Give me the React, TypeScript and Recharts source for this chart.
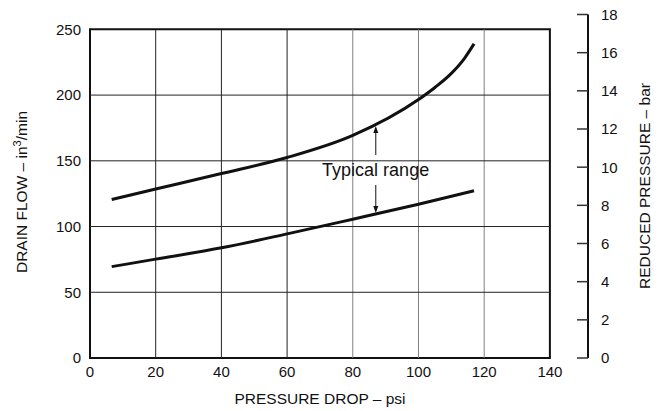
import React from 'react';
import { LineChart, Line, XAxis, YAxis, ReferenceLine, ReferenceArea } from 'recharts';

// axis ticks
const psiTicks = [0, 20, 40, 60, 80, 100, 120, 140];
const flowTicks = [0, 50, 100, 150, 200, 250];
const barTicks = [0, 2, 4, 6, 8, 10, 12, 14, 16, 18];

// inner grid lines
const psiGrid = [20, 40, 60, 80, 100, 120];
const flowGrid = [50, 100, 150, 200];

// upper edge of the typical range
const upperPsi = [6.6, 20, 40, 60, 80, 100, 105, 110, 114, 116.9];
const upperFlow = [120.6, 128.5, 140.3, 152.5, 169.3, 196.6, 205.8, 216.5, 228, 239];

// lower edge of the typical range
const lowerPsi = [6.6, 20, 40, 60, 80, 100, 116.9];
const lowerFlow = [69.5, 75.2, 83.8, 94.4, 105.6, 117, 127.2];

// annotation
const rangeLabel = 'Typical range';
const rangePsi = 87;
const upperArrow = [154.4, 176.5];
const lowerArrow = [131.6, 110.3];
const labelBoxPsi = [65.9, 108];
const labelBoxFlow = [131.6, 154.4];

const PSI_MAX = 140;
const FLOW_MAX = 250;
const BAR_MAX = 18;
// plot area reaches out to the bar axis on the right and up to 18 bar
const psiDomainMax = 151.6;
const flowDomainMax = 261.3;

const upperData = upperPsi.map((psi, i) => ({ psi, flow: upperFlow[i] }));
const lowerData = lowerPsi.map((psi, i) => ({ psi, flow: lowerFlow[i] }));

const FONT = '"Liberation Sans", Arial, sans-serif';
const INK = '#111';

function BarTick(props: any) {
  const { x, y, payload } = props;
  return (
    <g>
      <line x1={x - 11} x2={x} y1={y} y2={y} stroke="#333" strokeWidth={1.5} />
      <text x={x + 13} y={y} dy="0.36em" fontSize={15} fill={INK} fontFamily={FONT}>
        {payload.value}
      </text>
    </g>
  );
}

function Arrow(props: any) {
  const { x1, y1, x2, y2 } = props;
  const dir = y2 < y1 ? -1 : 1;
  return (
    <g>
      <line x1={x1} y1={y1} x2={x2} y2={y2 - dir * 5} stroke={INK} strokeWidth={1} />
      <path d={`M${x2},${y2} L${x2 - 2.5},${y2 - dir * 7} L${x2 + 2.5},${y2 - dir * 7} Z`} fill={INK} />
    </g>
  );
}

export default function App() {
  return (
    <div style={{ position: 'absolute', left: 0, top: 0, width: 667, height: 411, background: '#fff', fontFamily: FONT }}>
      <LineChart width={667} height={411} margin={{ top: 14.5, right: 34, bottom: 23, left: 40 }}>
        <XAxis
          type="number"
          dataKey="psi"
          domain={[0, psiDomainMax]}
          allowDataOverflow
          ticks={psiTicks}
          interval={0}
          axisLine={false}
          tickLine={false}
          tickSize={0}
          tickMargin={8}
          height={30}
          tick={{ fill: INK, fontSize: 15, fontFamily: FONT }}
        />
        <YAxis
          yAxisId="flow"
          type="number"
          domain={[0, flowDomainMax]}
          allowDataOverflow
          ticks={flowTicks}
          interval={0}
          axisLine={false}
          tickLine={false}
          tickSize={0}
          tickMargin={9}
          width={50}
          tick={{ fill: INK, fontSize: 15, fontFamily: FONT }}
        />
        <YAxis
          yAxisId="bar"
          orientation="right"
          type="number"
          domain={[0, BAR_MAX]}
          allowDataOverflow
          ticks={barTicks}
          interval={0}
          axisLine={{ stroke: INK, strokeWidth: 2 }}
          tickLine={false}
          tickSize={0}
          tickMargin={0}
          width={45}
          tick={(p: any) => <BarTick {...p} />}
        />

        {psiGrid.map((p) => (
          <ReferenceLine
            key={'x' + p}
            yAxisId="flow"
            segment={[{ x: p, y: 0 }, { x: p, y: FLOW_MAX }]}
            stroke={p >= 80 ? '#808080' : '#222'}
            strokeWidth={1}
          />
        ))}
        {flowGrid.map((f) => (
          <ReferenceLine
            key={'y' + f}
            yAxisId="flow"
            segment={[{ x: 0, y: f }, { x: PSI_MAX, y: f }]}
            stroke="#222"
            strokeWidth={1}
          />
        ))}

        <ReferenceArea
          yAxisId="flow"
          x1={labelBoxPsi[0]}
          x2={labelBoxPsi[1]}
          y1={labelBoxFlow[0]}
          y2={labelBoxFlow[1]}
          fill="#fff"
          fillOpacity={1}
          stroke="none"
          label={{ value: rangeLabel, position: 'center', fontSize: 18, fill: INK, fontFamily: FONT }}
        />
        <ReferenceArea
          yAxisId="flow"
          x1={0}
          x2={PSI_MAX}
          y1={0}
          y2={FLOW_MAX}
          fill="none"
          stroke={INK}
          strokeWidth={2}
        />

        <ReferenceLine
          yAxisId="flow"
          segment={[{ x: rangePsi, y: upperArrow[0] }, { x: rangePsi, y: upperArrow[1] }]}
          shape={Arrow}
        />
        <ReferenceLine
          yAxisId="flow"
          segment={[{ x: rangePsi, y: lowerArrow[0] }, { x: rangePsi, y: lowerArrow[1] }]}
          shape={Arrow}
        />

        <Line
          yAxisId="flow"
          data={upperData}
          dataKey="flow"
          type="monotone"
          stroke={INK}
          strokeWidth={3}
          dot={false}
          activeDot={false}
          isAnimationActive={false}
        />
        <Line
          yAxisId="flow"
          data={lowerData}
          dataKey="flow"
          type="monotone"
          stroke={INK}
          strokeWidth={3}
          dot={false}
          activeDot={false}
          isAnimationActive={false}
        />
      </LineChart>
      <svg width={667} height={411} style={{ position: 'absolute', left: 0, top: 0, pointerEvents: 'none' }}>
        <text x={320} y={404} textAnchor="middle" fontSize={15.5} fill={INK} fontFamily={FONT}>
          PRESSURE DROP – psi
        </text>
        <text transform="translate(26.5,192) rotate(-90)" textAnchor="middle" fontSize={15.5} fill={INK} fontFamily={FONT}>
          DRAIN FLOW – in<tspan dy={-6} fontSize={11}>3</tspan><tspan dy={6}>/min</tspan>
        </text>
        <text transform="translate(650,186) rotate(-90)" textAnchor="middle" fontSize={15.5} fill={INK} fontFamily={FONT}>
          REDUCED PRESSURE – bar
        </text>
      </svg>
    </div>
  );
}
